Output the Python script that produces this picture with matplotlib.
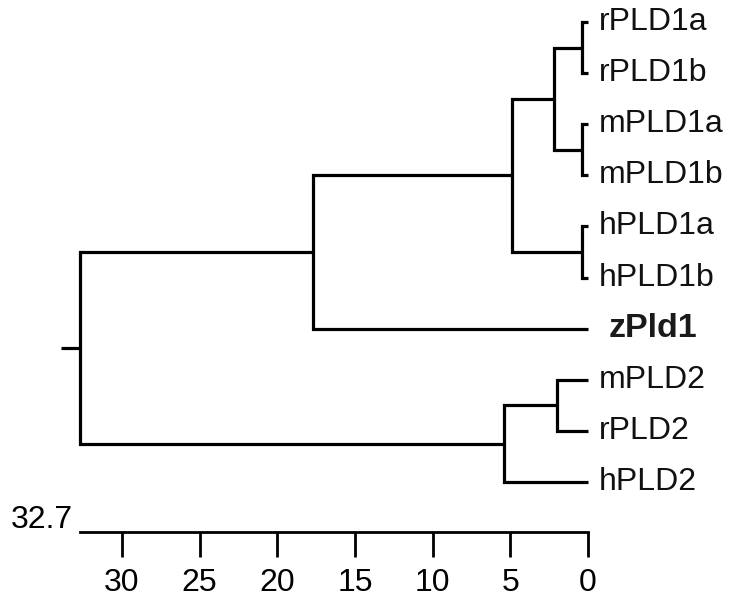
"""
Dendrograma de PLD: arbol de distancias con barra de escala inferior.
"""
import matplotlib.pyplot as plt

plt.rcParams["font.family"] = ["Liberation Sans", "DejaVu Sans"]

# hojas en orden de arriba a abajo
hojas = ["rPLD1a", "rPLD1b", "mPLD1a", "mPLD1b", "hPLD1a", "hPLD1b",
         "zPld1", "mPLD2", "rPLD2", "hPLD2"]
# uniones: (hijo_a, hijo_b, distancia); nodos nuevos numerados desde len(hojas)
uniones_a = [0, 2, 4, 10, 13, 14, 7, 16, 15]
uniones_b = [1, 3, 5, 11, 12, 6, 8, 9, 17]
distancias = [0.4, 0.4, 0.4, 2.2, 4.9, 17.7, 2.0, 5.4, 32.7]
destacada = "zPld1"

escala_max = 32.7
ticks = [30, 25, 20, 15, 10, 5, 0]

W, H = 739, 606
fig = plt.figure(figsize=(W / 100, H / 100), dpi=100)

x0, x1 = 80, 588        # px de 32.7 y de 0
y_top, y_bot = 22, 482  # px de la primera y ultima hoja
ax = fig.add_axes([x0 / W, (H - y_bot) / H, (x1 - x0) / W, (y_bot - y_top) / H])
ax.set_xlim(escala_max, 0)
ax.set_ylim(len(hojas) - 1, 0)
ax.axis("off")

# posiciones de cada nodo
pos_y = {i: float(i) for i in range(len(hojas))}
pos_x = {i: 0.0 for i in range(len(hojas))}
kw = dict(color="black", lw=2.3, clip_on=False, solid_joinstyle="miter",
          solid_capstyle="butt")
for k, (a, b, d) in enumerate(zip(uniones_a, uniones_b, distancias)):
    nodo = len(hojas) + k
    ax.plot([pos_x[a], d, d, pos_x[b]], [pos_y[a], pos_y[a], pos_y[b], pos_y[b]], **kw)
    pos_x[nodo] = d
    pos_y[nodo] = (pos_y[a] + pos_y[b]) / 2

# tallo de la raiz
raiz = len(hojas) + len(distancias) - 1
ax.plot([pos_x[raiz], pos_x[raiz] + 1.2], [pos_y[raiz]] * 2, **kw)

for i, nombre in enumerate(hojas):
    if nombre == destacada:
        ax.annotate(nombre, (0, i), xytext=(15, 0), textcoords="offset points",
                    va="center", ha="left", fontsize=24.5, fontweight="bold",
                    color="#1a1a1a", annotation_clip=False)
    else:
        ax.annotate(nombre, (0, i), xytext=(7.5, 0), textcoords="offset points",
                    va="center", ha="left", fontsize=23, color="#111111",
                    annotation_clip=False)

# barra de escala
y_eje = 531.7
axs = fig.add_axes([x0 / W, (H - y_eje) / H, (x1 - x0) / W, 0.001])
axs.set_xlim(escala_max, 0)
axs.set_yticks([])
for lado in ["top", "left", "right"]:
    axs.spines[lado].set_visible(False)
axs.spines["bottom"].set_linewidth(2.0)
axs.set_xticks(ticks)
axs.set_xticklabels([str(t) for t in ticks])
axs.tick_params(axis="x", direction="out", length=18, width=2.0, pad=8,
                labelsize=23)
axs.annotate(f"{escala_max}", (escala_max, 0), xycoords=("data", "axes fraction"),
             xytext=(-5, 8.6), textcoords="offset points", ha="right", va="center",
             fontsize=23, annotation_clip=False)

plt.savefig("out.png", dpi=100)
